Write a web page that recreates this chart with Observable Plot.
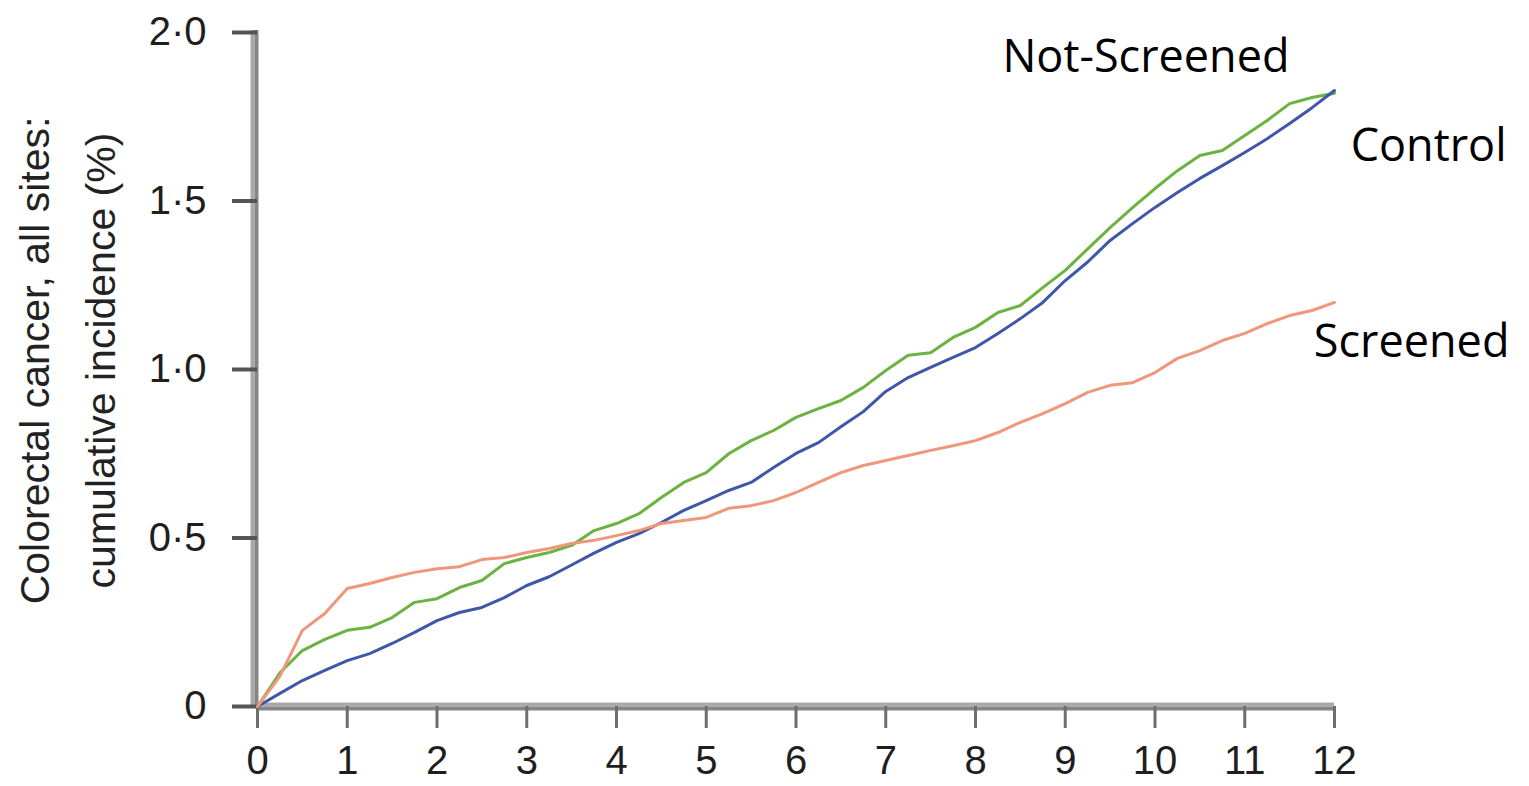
<!DOCTYPE html>
<html>
<head>
<meta charset="utf-8">
<script src="https://cdn.jsdelivr.net/npm/d3@7"></script>
<script src="https://cdn.jsdelivr.net/npm/@observablehq/plot@0.6"></script>
<style>
  html, body { margin: 0; padding: 0; background: #fff; }
  #chart svg { display: block; }
</style>
</head>
<body>
<div id="chart"></div>
<script>
// ---- data ----
const years = [0, 0.25, 0.5, 0.75, 1, 1.25, 1.5, 1.75, 2, 2.25, 2.5, 2.75, 3, 3.25, 3.5, 3.75, 4, 4.25, 4.5, 4.75, 5, 5.25, 5.5, 5.75, 6, 6.25, 6.5, 6.75, 7, 7.25, 7.5, 7.75, 8, 8.25, 8.5, 8.75, 9, 9.25, 9.5, 9.75, 10, 10.25, 10.5, 10.75, 11, 11.25, 11.5, 11.75, 12];

const notScreened = [0, 0.10, 0.166, 0.199, 0.226, 0.235, 0.264, 0.309, 0.32, 0.353, 0.374, 0.424, 0.442, 0.457, 0.478, 0.522, 0.543, 0.572, 0.62, 0.665, 0.694, 0.75, 0.789, 0.819, 0.858, 0.884, 0.908, 0.947, 0.997, 1.042, 1.05, 1.095, 1.125, 1.169, 1.19, 1.243, 1.294, 1.358, 1.421, 1.48, 1.537, 1.59, 1.635, 1.65, 1.694, 1.739, 1.789, 1.807, 1.82];

const control = [0, 0.039, 0.077, 0.107, 0.136, 0.157, 0.187, 0.22, 0.255, 0.279, 0.294, 0.323, 0.359, 0.385, 0.42, 0.455, 0.487, 0.513, 0.546, 0.582, 0.611, 0.641, 0.665, 0.709, 0.751, 0.783, 0.83, 0.875, 0.935, 0.976, 1.006, 1.036, 1.065, 1.107, 1.151, 1.199, 1.264, 1.319, 1.383, 1.433, 1.481, 1.525, 1.567, 1.605, 1.644, 1.685, 1.73, 1.777, 1.828];

const screened = [0, 0.09, 0.226, 0.276, 0.35, 0.365, 0.383, 0.398, 0.409, 0.415, 0.436, 0.442, 0.457, 0.469, 0.484, 0.493, 0.507, 0.522, 0.543, 0.552, 0.561, 0.588, 0.596, 0.611, 0.635, 0.665, 0.694, 0.715, 0.73, 0.745, 0.76, 0.774, 0.789, 0.813, 0.843, 0.869, 0.899, 0.932, 0.953, 0.961, 0.991, 1.033, 1.056, 1.086, 1.107, 1.136, 1.16, 1.175, 1.199];

const seriesNames = ["Not-Screened", "Control", "Screened"];
const seriesColors = ["#6cb241", "#3f57a9", "#f0967b"];

const xTicks = [0, 1, 2, 3, 4, 5, 6, 7, 8, 9, 10, 11, 12];
const yTicks = [0, 0.5, 1, 1.5, 2];
const yTickLabels = ["0", "0·5", "1·0", "1·5", "2·0"];

const yTitleLines = ["Colorectal cancer, all sites:", "cumulative incidence (%)"];

// series labels placed at data positions (years, %)
const labelNames = ["Not-Screened", "Control", "Screened"];
const labelYears = [8.3, 12.18, 11.77];
const labelValues = [1.927, 1.66, 1.079];

// ---- build tables ----
const seriesValues = [notScreened, control, screened];
const rows = [];
seriesNames.forEach((name, i) => {
  years.forEach((t, j) => rows.push({ series: name, year: t, value: seriesValues[i][j] }));
});
const labels = labelNames.map((n, i) => ({ name: n, year: labelYears[i], value: labelValues[i] }));

const tickFont = "'Liberation Sans', Arial, 'DejaVu Sans', sans-serif";

const chart = Plot.plot({
  width: 1529,
  height: 786,
  marginTop: 32,
  marginBottom: 80,
  marginLeft: 257,
  marginRight: 195,
  x: { domain: [0, 12] },
  y: { domain: [0, 2] },
  color: { domain: seriesNames, range: seriesColors },
  style: { fontFamily: tickFont, background: "#fff", overflow: "visible" },
  marks: [
    // axis lines (two-tone grey)
    Plot.ruleX([0], { stroke: "#a9a9a9", strokeWidth: 4, dx: -5, y1: 2.006, y2: 0 }),
    Plot.ruleX([0], { stroke: "#868686", strokeWidth: 4, dx: -1, y1: 2.006, y2: 0 }),
    Plot.ruleY([0], { stroke: "#a9a9a9", strokeWidth: 4, dy: -2 }),
    Plot.ruleY([0], { stroke: "#868686", strokeWidth: 4, dy: 2 }),
    Plot.axisY(yTicks, {
      tickSize: 25, tickPadding: 26,
      tickFormat: d => yTickLabels[yTicks.indexOf(d)],
      stroke: "#555", strokeWidth: 4,
      fill: "#1e1e1e", fontSize: 40, fontFamily: tickFont,
      label: null
    }),
    Plot.axisX(xTicks, {
      tickSize: 22, tickPadding: 17,
      tickFormat: d => String(d),
      stroke: "#6e6e6e", strokeWidth: 3,
      fill: "#1e1e1e", fontSize: 40, fontFamily: tickFont,
      label: null
    }),
    Plot.line(rows, { x: "year", y: "value", z: "series", stroke: "series", strokeWidth: 3 }),
    Plot.text(labels, {
      x: "year", y: "value", text: "name",
      textAnchor: "start", lineAnchor: "middle",
      fontSize: 45, fontFamily: "'Open Sans', 'Noto Sans', sans-serif",
      fill: "#000"
    }),
    Plot.text([yTitleLines[0]], {
      text: d => d, frameAnchor: "left", rotate: -90,
      textAnchor: "middle", lineAnchor: "middle",
      dx: -222, dy: -9, fontSize: 41, fill: "#222", fontFamily: tickFont
    }),
    Plot.text([yTitleLines[1]], {
      text: d => d, frameAnchor: "left", rotate: -90,
      textAnchor: "middle", lineAnchor: "middle",
      dx: -156, dy: -9, fontSize: 41, fill: "#222", fontFamily: tickFont
    })
  ]
});

document.getElementById("chart").appendChild(chart);
</script>
</body>
</html>
